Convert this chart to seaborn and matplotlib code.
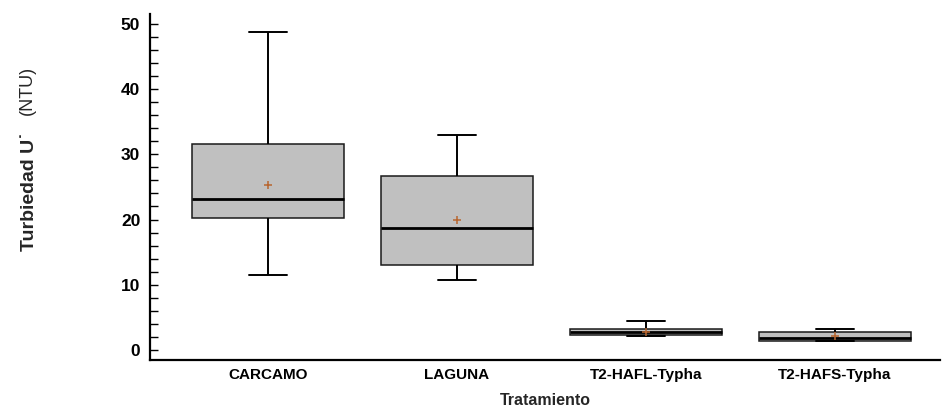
import matplotlib
matplotlib.use("Agg")
import matplotlib.pyplot as plt
import pandas as pd
import seaborn as sns
from matplotlib.ticker import MultipleLocator

# Resumen de turbiedad (NTU) por tratamiento
tratamientos = ["CARCAMO", "LAGUNA", "T2-HAFL-Typha", "T2-HAFS-Typha"]
minimos = [11.55, 10.7, 2.1, 1.4]
cuartil_1 = [20.2, 13.0, 2.25, 1.45]
medianas = [23.2, 18.7, 2.75, 1.8]
cuartil_3 = [31.6, 26.7, 3.2, 2.8]
maximos = [48.7, 32.9, 4.45, 3.15]
medias = [25.3, 19.9, 2.8, 2.15]

# Cinco valores por tratamiento reproducen mínimo, cuartiles, mediana y máximo
filas = []
for t, a, b, c, d, e in zip(tratamientos, minimos, cuartil_1, medianas, cuartil_3, maximos):
    for v in (a, b, c, d, e):
        filas.append({"Tratamiento": t, "Turbiedad": v})
df = pd.DataFrame(filas)

sns.set_theme(style="ticks")
plt.rcParams["font.family"] = ["Liberation Sans", "DejaVu Sans"]

fig = plt.figure(figsize=(9.42, 4.07), dpi=100)
ax = fig.add_axes([150 / 942, 47 / 407, 790 / 942, 346 / 407])

sns.boxplot(
    data=df, x="Tratamiento", y="Turbiedad", order=tratamientos,
    whis=(0, 100), width=0.8, color="#c0c0c0", saturation=1,
    linecolor="#1a1a1a", linewidth=1.1, showfliers=False,
    medianprops=dict(color="black", linewidth=2.0),
    whiskerprops=dict(color="black", linewidth=1.4),
    capprops=dict(color="black", linewidth=1.4),
    capwidths=0.2, ax=ax,
)

# Media de cada tratamiento
sns.pointplot(
    x=tratamientos, y=medias, order=tratamientos, color="#b8652e",
    marker="+", linestyle="none", errorbar=None, markersize=5.5,
    markeredgewidth=1.1, ax=ax, zorder=5,
)

ax.set_xlim(-0.624, 3.556)
ax.set_ylim(-1.53, 51.5)
ax.yaxis.set_major_locator(MultipleLocator(10))
ax.yaxis.set_minor_locator(MultipleLocator(2))
ax.tick_params(axis="y", which="both", direction="in", length=5.5, width=1,
               pad=7, labelsize=12.5, colors="black")
ax.tick_params(axis="x", length=0, pad=6, labelsize=11, colors="black")
for lab in ax.get_xticklabels() + ax.get_yticklabels():
    lab.set_fontweight("bold")

sns.despine(ax=ax)
for s in ("left", "bottom"):
    ax.spines[s].set_linewidth(1.6)
    ax.spines[s].set_color("black")

ax.set_xlabel("Tratamiento", fontsize=11.5, fontweight="bold", labelpad=8)
ax.set_ylabel("")
fig.text(29 / 942, 1 - 192 / 407, "Turbiedad U˙", rotation=90, fontsize=14,
         fontweight="bold", ha="center", va="center")
fig.text(27 / 942, 1 - 90 / 407, "(NTU)", rotation=90, fontsize=13,
         ha="center", va="center")

fig.savefig("out.png", dpi=100, facecolor="white")
